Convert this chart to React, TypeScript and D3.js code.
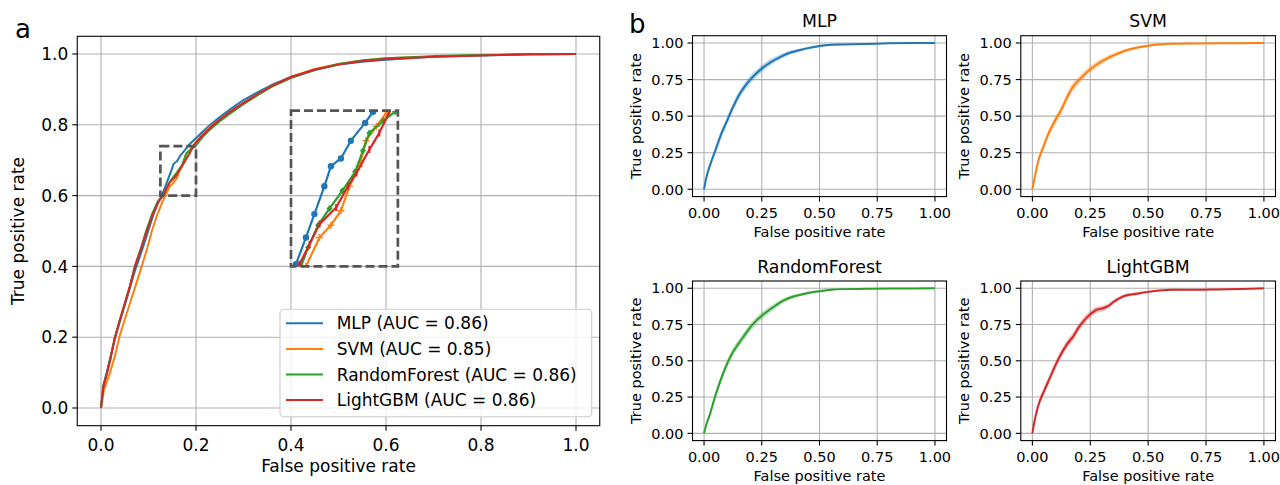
import React from "react";
import * as d3 from "d3";

const models = ["MLP", "SVM", "RandomForest", "LightGBM"];
const colors = ["#1f77b4", "#ff7f0e", "#2ca02c", "#d62728"];
const aucs = ["0.86", "0.85", "0.86", "0.86"];

// panel a: pooled ROC curves [fpr, tpr]
const mlpRoc: [number, number][] = [
  [0, 0], [0.004, 0.06], [0.012, 0.1], [0.02, 0.145], [0.03, 0.2], [0.04, 0.245], [0.05, 0.29],
  [0.06, 0.335], [0.072, 0.39], [0.085, 0.44], [0.097, 0.49], [0.11, 0.545], [0.12, 0.58],
  [0.1285, 0.602], [0.1355, 0.626], [0.1414, 0.647], [0.1484, 0.672], [0.153, 0.69], [0.16, 0.697],
  [0.167, 0.713], [0.177, 0.729], [0.1826, 0.739], [0.19, 0.75], [0.2, 0.762], [0.215, 0.782],
  [0.23, 0.8], [0.25, 0.822], [0.27, 0.842], [0.3, 0.87], [0.33, 0.892], [0.36, 0.913], [0.4, 0.935],
  [0.45, 0.955], [0.5, 0.97], [0.55, 0.978], [0.6, 0.984], [0.7, 0.992], [0.8, 0.996], [0.9, 0.999], [1, 1],
];
const svmRoc: [number, number][] = [
  [0, 0], [0.006, 0.05], [0.019, 0.1], [0.03, 0.15], [0.0385, 0.2], [0.05, 0.25], [0.062, 0.3],
  [0.075, 0.355], [0.0857, 0.4], [0.097, 0.45], [0.107, 0.5], [0.118, 0.545], [0.128, 0.578],
  [0.1355, 0.6], [0.145, 0.626], [0.153, 0.637], [0.16, 0.65], [0.166, 0.672], [0.173, 0.69],
  [0.1776, 0.713], [0.185, 0.726], [0.1925, 0.739], [0.2, 0.752], [0.215, 0.775], [0.23, 0.795],
  [0.25, 0.815], [0.27, 0.835], [0.3, 0.862], [0.33, 0.886], [0.36, 0.91], [0.4, 0.935], [0.45, 0.958],
  [0.5, 0.972], [0.55, 0.982], [0.6, 0.988], [0.7, 0.993], [0.8, 0.997], [0.9, 0.999], [1, 1],
];
const rfRoc: [number, number][] = [
  [0, 0], [0.005, 0.06], [0.013, 0.1], [0.02, 0.14], [0.029, 0.2], [0.04, 0.25], [0.05, 0.295],
  [0.06, 0.34], [0.071, 0.4], [0.084, 0.45], [0.095, 0.5], [0.108, 0.55], [0.12, 0.585], [0.132, 0.6],
  [0.137, 0.617], [0.144, 0.637], [0.152, 0.652], [0.161, 0.668], [0.17, 0.685], [0.1755, 0.704],
  [0.18, 0.72], [0.19, 0.731], [0.198, 0.739], [0.205, 0.75], [0.215, 0.767], [0.23, 0.787],
  [0.25, 0.81], [0.27, 0.83], [0.3, 0.858], [0.33, 0.884], [0.36, 0.908], [0.4, 0.932], [0.45, 0.955],
  [0.5, 0.972], [0.55, 0.982], [0.6, 0.988], [0.7, 0.994], [0.8, 0.997], [0.9, 0.999], [1, 1],
];
const lgbmRoc: [number, number][] = [
  [0, 0], [0.005, 0.06], [0.013, 0.1], [0.02, 0.14], [0.0295, 0.2], [0.04, 0.25], [0.05, 0.295],
  [0.06, 0.34], [0.0716, 0.4], [0.084, 0.45], [0.096, 0.5], [0.11, 0.55], [0.12, 0.58], [0.131, 0.602],
  [0.138, 0.62], [0.145, 0.638], [0.1567, 0.653], [0.165, 0.672], [0.171, 0.684], [0.18, 0.705],
  [0.187, 0.72], [0.194, 0.739], [0.2, 0.75], [0.215, 0.772], [0.23, 0.792], [0.25, 0.815],
  [0.27, 0.835], [0.3, 0.862], [0.33, 0.887], [0.36, 0.91], [0.4, 0.935], [0.45, 0.956], [0.5, 0.97],
  [0.55, 0.98], [0.6, 0.986], [0.7, 0.992], [0.8, 0.996], [0.9, 0.999], [1, 1],
];
const rocA = [mlpRoc, svmRoc, rfRoc, lgbmRoc];

// zoomed region and where the inset shows it
const zoomFromX = [0.125, 0.2];
const zoomFromY = [0.6, 0.74];
const zoomToX = [0.4, 0.625];
const zoomToY = [0.4, 0.84];

// panel b: mean ROC over folds with std band
const fprGrid = [0, 0.01, 0.025, 0.05, 0.075, 0.1, 0.125, 0.15, 0.175, 0.2, 0.225, 0.25, 0.275, 0.3, 0.325, 0.35, 0.375, 0.4, 0.45, 0.5, 0.55, 0.6, 0.7, 0.8, 0.9, 1];
const mlpMean = [0, 0.08, 0.16, 0.27, 0.38, 0.47, 0.56, 0.64, 0.7, 0.75, 0.79, 0.825, 0.855, 0.88, 0.9, 0.92, 0.935, 0.945, 0.965, 0.98, 0.988, 0.99, 0.993, 0.998, 1, 1];
const svmMean = [0, 0.08, 0.19, 0.3, 0.4, 0.475, 0.545, 0.63, 0.7, 0.745, 0.785, 0.82, 0.85, 0.875, 0.897, 0.915, 0.932, 0.947, 0.968, 0.982, 0.99, 0.995, 0.997, 0.998, 0.999, 1];
const rfMean = [0, 0.06, 0.13, 0.265, 0.38, 0.48, 0.56, 0.62, 0.675, 0.73, 0.775, 0.81, 0.842, 0.87, 0.897, 0.92, 0.936, 0.948, 0.968, 0.98, 0.99, 0.994, 0.996, 0.998, 0.999, 1];
const lgbmMean = [0, 0.09, 0.19, 0.29, 0.38, 0.47, 0.55, 0.615, 0.665, 0.73, 0.78, 0.82, 0.85, 0.86, 0.875, 0.905, 0.93, 0.948, 0.962, 0.975, 0.985, 0.99, 0.99, 0.992, 0.995, 1];
const mlpStd = [0, 0.014, 0.022, 0.026, 0.028, 0.028, 0.028, 0.028, 0.027, 0.026, 0.025, 0.024, 0.022, 0.02, 0.018, 0.016, 0.014, 0.012, 0.01, 0.008, 0.006, 0.005, 0.004, 0.003, 0.002, 0];
const svmStd = [0, 0.014, 0.022, 0.026, 0.028, 0.03, 0.03, 0.03, 0.03, 0.028, 0.026, 0.024, 0.022, 0.02, 0.018, 0.016, 0.014, 0.012, 0.01, 0.008, 0.006, 0.005, 0.004, 0.003, 0.002, 0];
const rfStd = [0, 0.012, 0.02, 0.025, 0.027, 0.028, 0.028, 0.028, 0.028, 0.027, 0.026, 0.024, 0.022, 0.02, 0.018, 0.016, 0.014, 0.012, 0.01, 0.008, 0.006, 0.005, 0.004, 0.003, 0.002, 0];
const lgbmStd = [0, 0.014, 0.022, 0.026, 0.028, 0.028, 0.028, 0.028, 0.028, 0.027, 0.026, 0.024, 0.022, 0.02, 0.018, 0.016, 0.014, 0.012, 0.01, 0.008, 0.006, 0.005, 0.004, 0.003, 0.002, 0];
const meansB = [mlpMean, svmMean, rfMean, lgbmMean];
const stdsB = [mlpStd, svmStd, rfStd, lgbmStd];

const ticksA = [0, 0.2, 0.4, 0.6, 0.8, 1.0];
const ticksB = [0, 0.25, 0.5, 0.75, 1.0];

const font = "DejaVu Sans, Verdana, sans-serif";
const gridColor = "#b0b0b0";

function Axes({ xs, ys, xTicks, yTicks, digits, fs, xLabelDy, yLabelDx, children }: any) {
  const [l, r] = xs.range();
  const [b, t] = ys.range();
  const fmt = d3.format(`.${digits}f`);
  return (
    <g fontFamily={font}>
      {xTicks.map((v: number) => (
        <line key={"gx" + v} x1={xs(v)} x2={xs(v)} y1={t} y2={b} stroke={gridColor} strokeWidth={1.1} />
      ))}
      {yTicks.map((v: number) => (
        <line key={"gy" + v} x1={l} x2={r} y1={ys(v)} y2={ys(v)} stroke={gridColor} strokeWidth={1.1} />
      ))}
      {children}
      <rect x={l} y={t} width={r - l} height={b - t} fill="none" stroke="#000" strokeWidth={1.1} />
      {xTicks.map((v: number) => (
        <g key={"tx" + v}>
          <line x1={xs(v)} x2={xs(v)} y1={b} y2={b + 5} stroke="#000" strokeWidth={1.1} />
          <text x={xs(v)} y={b + fs * 1.48} fontSize={fs} textAnchor="middle" fill="#000">{fmt(v)}</text>
        </g>
      ))}
      {yTicks.map((v: number) => (
        <g key={"ty" + v}>
          <line x1={l - 5} x2={l} y1={ys(v)} y2={ys(v)} stroke="#000" strokeWidth={1.1} />
          <text x={l - 9} y={ys(v)} dy="0.36em" fontSize={fs} textAnchor="end" fill="#000">{fmt(v)}</text>
        </g>
      ))}
      <text x={(l + r) / 2} y={b + xLabelDy} fontSize={fs} textAnchor="middle" fill="#000">False positive rate</text>
      <text transform={`translate(${l - yLabelDx},${(t + b) / 2}) rotate(-90)`} fontSize={fs} textAnchor="middle" fill="#000">
        True positive rate
      </text>
    </g>
  );
}

function Marker({ kind, x, y, color }: any) {
  if (kind === 0) return <circle cx={x} cy={y} r={3.2} fill={color} />;
  if (kind === 1)
    return <path d={`M${x - 3.5},${y}H${x + 3.5}M${x},${y - 3.5}V${y + 3.5}`} stroke={color} strokeWidth={1.5} />;
  if (kind === 2)
    return <path d={`M${x},${y - 3.5}L${x + 3},${y}L${x},${y + 3.5}L${x - 3},${y}Z`} fill={color} />;
  return <path d={`M${x},${y - 3.5}V${y + 3.5}`} stroke={color} strokeWidth={2} />;
}

function PanelA() {
  const xs = d3.scaleLinear().domain([-0.05, 1.05]).range([77.25, 599.75]);
  const ys = d3.scaleLinear().domain([-0.05, 1.05]).range([425.7, 36.3]);
  const line = d3.line<[number, number]>().x((d) => xs(d[0])).y((d) => ys(d[1]));

  const ix = d3.scaleLinear().domain(zoomFromX).range([xs(zoomToX[0]), xs(zoomToX[1])]);
  const iy = d3.scaleLinear().domain(zoomFromY).range([ys(zoomToY[0]), ys(zoomToY[1])]);
  const iline = d3.line<[number, number]>().x((d) => ix(d[0])).y((d) => iy(d[1]));

  const inside = (d: [number, number]) =>
    d[0] >= zoomFromX[0] && d[0] <= zoomFromX[1] && d[1] >= zoomFromY[0] && d[1] <= zoomFromY[1];

  const legendX = 280;
  const legendY = 309.3;

  return (
    <g>
      <defs>
        <clipPath id="insetClip">
          <rect x={xs(zoomToX[0])} y={ys(zoomToY[1])} width={xs(zoomToX[1]) - xs(zoomToX[0])} height={ys(zoomToY[0]) - ys(zoomToY[1])} />
        </clipPath>
        <clipPath id="mainClip">
          <rect x={77.25} y={36.3} width={522.5} height={389.4} />
        </clipPath>
      </defs>
      <Axes xs={xs} ys={ys} xTicks={ticksA} yTicks={ticksA} digits={1} fs={17} xLabelDy={46} yLabelDx={53}>
        <g clipPath="url(#mainClip)">
          {rocA.map((c, i) => (
            <path key={i} d={line(c) || ""} fill="none" stroke={colors[i]} strokeWidth={2} strokeLinejoin="round" />
          ))}
        </g>
        <g clipPath="url(#insetClip)">
          {rocA.map((c, i) => (
            <g key={i}>
              <path d={iline(c) || ""} fill="none" stroke={colors[i]} strokeWidth={2.2} strokeLinejoin="round" />
              {c.filter(inside).map((d, k) => (
                <Marker key={k} kind={i} x={ix(d[0])} y={iy(d[1])} color={colors[i]} />
              ))}
            </g>
          ))}
        </g>
        <rect
          x={xs(zoomFromX[0])} y={ys(zoomFromY[1])}
          width={xs(zoomFromX[1]) - xs(zoomFromX[0])} height={ys(zoomFromY[0]) - ys(zoomFromY[1])}
          fill="none" stroke="#555" strokeWidth={2.7} strokeDasharray="9,4"
        />
        <rect
          x={xs(zoomToX[0])} y={ys(zoomToY[1])}
          width={xs(zoomToX[1]) - xs(zoomToX[0])} height={ys(zoomToY[0]) - ys(zoomToY[1])}
          fill="none" stroke="#555" strokeWidth={2.7} strokeDasharray="9,4"
        />
        <rect x={legendX} y={legendY} width={311.7} height={107.4} rx={4} fill="#fff" fillOpacity={0.8} stroke="#cccccc" strokeWidth={1.1} />
        {models.map((m, i) => {
          const yy = legendY + 14 + i * 25.6;
          return (
            <g key={m}>
              <line x1={legendX + 6} x2={legendX + 43} y1={yy} y2={yy} stroke={colors[i]} strokeWidth={2} />
              <text x={legendX + 56.7} y={yy} dy="0.36em" fontSize={17} fontFamily={font} fill="#000">
                {`${m} (AUC = ${aucs[i]})`}
              </text>
            </g>
          );
        })}
      </Axes>
      <text x={15} y={38} fontSize={26} fontFamily={font} fill="#000">a</text>
    </g>
  );
}

function SubPlot({ idx, col, row }: any) {
  const xRanges = [[692.5, 946.5], [1020.8, 1275.5]];
  const yRanges = [[196.6, 35.7], [440.6, 281]];
  const xs = d3.scaleLinear().domain([-0.05, 1.05]).range(xRanges[col]);
  const ys = d3.scaleLinear().domain([-0.05, 1.05]).range(yRanges[row]);
  const mean = meansB[idx];
  const std = stdsB[idx];
  const pts = fprGrid.map((f, k) => ({ f, m: mean[k], s: std[k] }));
  const area = d3
    .area<any>()
    .x((d) => xs(d.f))
    .y0((d) => ys(Math.max(0, d.m - d.s)))
    .y1((d) => ys(Math.min(1, d.m + d.s)))
    .curve(d3.curveMonotoneX);
  const line = d3.line<any>().x((d) => xs(d.f)).y((d) => ys(d.m)).curve(d3.curveMonotoneX);
  const [l, r] = xs.range();
  const t = ys.range()[1];
  return (
    <g>
      <Axes xs={xs} ys={ys} xTicks={ticksB} yTicks={ticksB} digits={2} fs={14.5} xLabelDy={40.5} yLabelDx={51.5}>
        <path d={area(pts) || ""} fill={colors[idx]} fillOpacity={0.3} />
        <path d={line(pts) || ""} fill="none" stroke={colors[idx]} strokeWidth={2} strokeLinejoin="round" />
      </Axes>
      <text x={(l + r) / 2} y={t - 8.3} fontSize={17.3} fontFamily={font} textAnchor="middle" fill="#000">
        {models[idx]}
      </text>
    </g>
  );
}

export default function App() {
  return (
    <div style={{ position: "absolute", left: 0, top: 0 }}>
      <svg width={1280} height={485} style={{ display: "block", background: "#fff" }}>
        <PanelA />
        <SubPlot idx={0} col={0} row={0} />
        <SubPlot idx={1} col={1} row={0} />
        <SubPlot idx={2} col={0} row={1} />
        <SubPlot idx={3} col={1} row={1} />
        <text x={629} y={33} fontSize={26} fontFamily={font} fill="#000">b</text>
      </svg>
    </div>
  );
}
